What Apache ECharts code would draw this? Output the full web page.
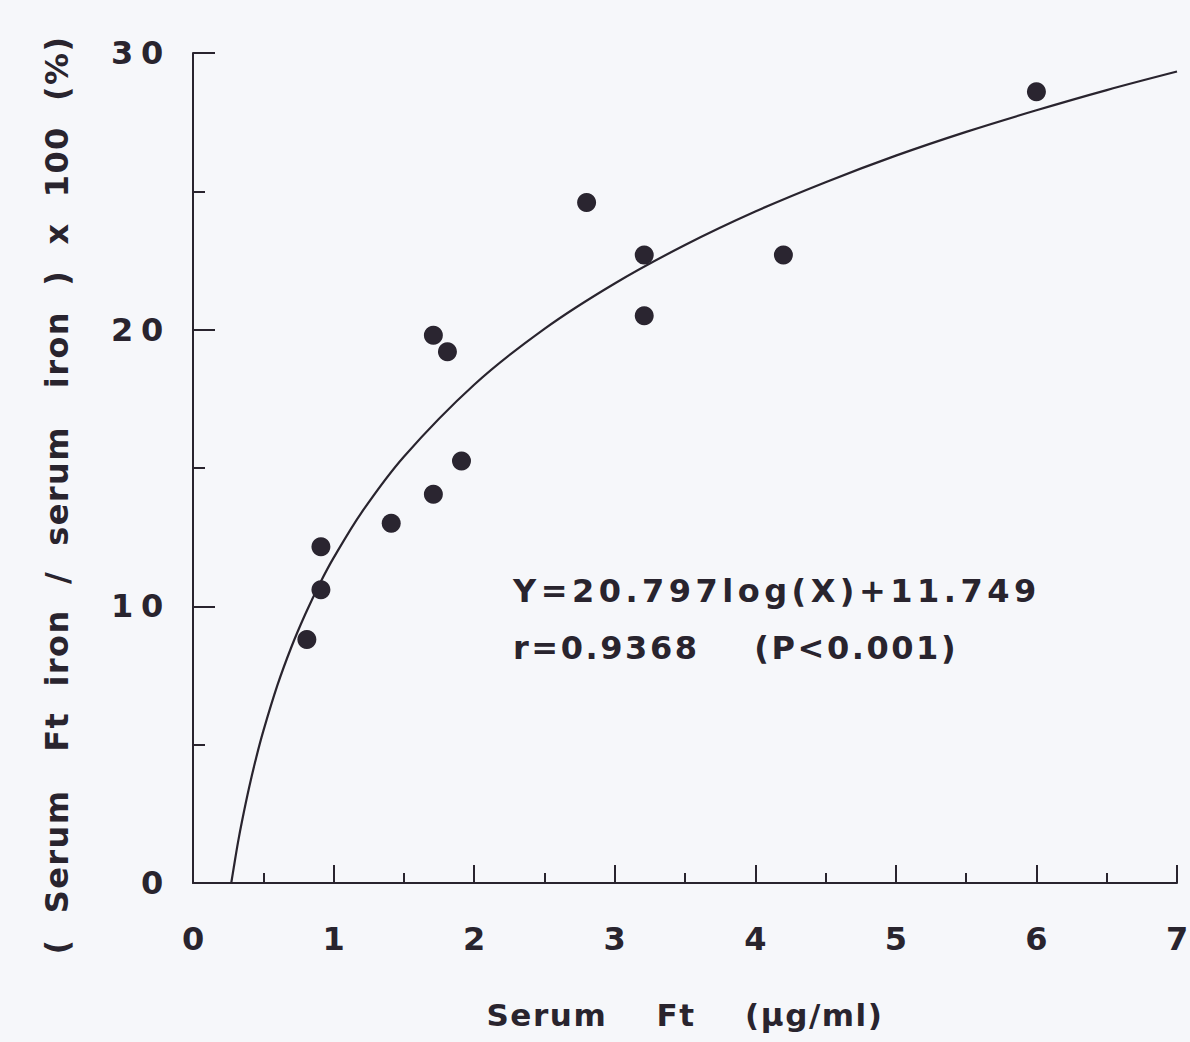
<!DOCTYPE html>
<html>
<head>
<meta charset="utf-8">
<script src="https://cdn.jsdelivr.net/npm/echarts@6/dist/echarts.min.js"></script>
<style>
html, body { margin: 0; padding: 0; background: #f6f7fa; }
#chart { width: 1190px; height: 1042px; }
#chart text { white-space: pre; }
</style>
</head>
<body>
<div id="chart"></div>
<script>
// ---- data ----
const xTicks = [0, 1, 2, 3, 4, 5, 6, 7];
const yTicks = [0, 10, 20, 30];
const ferritin = [0.81, 0.91, 0.91, 1.41, 1.71, 1.91, 1.71, 1.81, 2.80, 3.21, 3.21, 4.20, 6.00];
const ratio    = [8.8, 10.6, 12.15, 13.0, 14.05, 15.25, 19.8, 19.2, 24.6, 22.7, 20.5, 22.7, 28.6];
const fitX = [0.272, 0.29, 0.32, 0.35, 0.4, 0.45, 0.5, 0.6, 0.7, 0.8, 0.9, 1.0, 1.2, 1.5, 2.0, 2.5, 3.0, 3.5, 4.0, 4.5, 5.0, 5.5, 6.0, 6.5, 7.0];
const fitY = [0, 0.56, 1.47, 2.27, 3.47, 4.54, 5.49, 7.14, 8.53, 9.73, 10.80, 11.75, 13.40, 15.41, 18.01, 20.03, 21.67, 23.06, 24.27, 25.33, 26.29, 27.15, 27.93, 28.66, 29.33];
const equationText = 'Y=20.797log(X)+11.749';
const statText = 'r=0.9368    (P<0.001)';
const xTitle = 'Serum    Ft    (μg/ml)';
const yTitle = '(  Serum   Ft  iron  /  serum   iron  )  x  100  (%)';

// ---- styling ----
const ink = '#29242e';
const dot = '#2a2530';
const fam = '"DejaVu Sans", "Liberation Sans", Arial, sans-serif';

const chart = echarts.init(document.getElementById('chart'), null, { renderer: 'svg' });

const option = {
  backgroundColor: '#f6f7fa',
  animation: false,
  grid: { left: 193, right: 13, top: 53, bottom: 159, containLabel: false, outerBoundsMode: 'none' },
  xAxis: {
    type: 'value',
    min: xTicks[0], max: xTicks[xTicks.length - 1], interval: 1,
    axisLine: { show: true, onZero: false, lineStyle: { color: ink, width: 2 } },
    axisTick: { show: true, inside: true, length: 18, lineStyle: { color: ink, width: 2 } },
    minorTick: { show: true, splitNumber: 2, length: 10, lineStyle: { color: ink, width: 2 } },
    splitLine: { show: false },
    minorSplitLine: { show: false },
    axisLabel: { color: ink, fontFamily: fam, fontWeight: 'bold', fontSize: 32, margin: 40 },
    name: xTitle,
    nameLocation: 'middle',
    nameGap: 116,
    nameTextStyle: { color: ink, fontFamily: fam, fontWeight: 'bold', fontSize: 31 }
  },
  yAxis: {
    type: 'value',
    min: yTicks[0], max: yTicks[yTicks.length - 1], interval: 10,
    axisLine: { show: true, onZero: false, lineStyle: { color: ink, width: 2 } },
    axisTick: { show: true, inside: true, length: 22, lineStyle: { color: ink, width: 2 } },
    minorTick: { show: true, splitNumber: 2, length: 12, lineStyle: { color: ink, width: 2 } },
    splitLine: { show: false },
    minorSplitLine: { show: false },
    axisLabel: { color: ink, fontFamily: fam, fontWeight: 'bold', fontSize: 32, margin: 22 }
  },
  series: [
    {
      type: 'line',
      data: fitX.map((x, i) => [x, fitY[i]]),
      showSymbol: false,
      smooth: 0.35,
      silent: true,
      lineStyle: { color: ink, width: 2.2 },
      z: 1
    },
    {
      type: 'scatter',
      data: ferritin.map((x, i) => [x, ratio[i]]),
      symbol: 'circle',
      symbolSize: 19,
      itemStyle: { color: dot, opacity: 1 },
      z: 2
    }
  ],
  graphic: [
    {
      type: 'text', x: 57, y: 495, rotation: Math.PI / 2,
      style: { text: yTitle, fill: ink, font: 'bold 32px ' + fam, align: 'center', verticalAlign: 'middle', textAlign: 'center', textVerticalAlign: 'middle' }
    },
    {
      type: 'text', x: 513, y: 591,
      style: { text: equationText, fill: ink, font: 'bold 32px ' + fam, align: 'left', verticalAlign: 'middle', textAlign: 'left', textVerticalAlign: 'middle' }
    },
    {
      type: 'text', x: 513, y: 648,
      style: { text: statText, fill: ink, font: 'bold 32px ' + fam, align: 'left', verticalAlign: 'middle', textAlign: 'left', textVerticalAlign: 'middle' }
    }
  ]
};

chart.setOption(option);

function applySpacing() {
  document.querySelectorAll('#chart text').forEach(function (t) {
    const s = t.textContent;
    const anchor = t.getAttribute('text-anchor');
    let ls = null;
    if (s === equationText) ls = '0.14em';
    else if (s === statText) ls = '0.08em';
    else if (s === yTitle) ls = '0.045em';
    else if (s === xTitle) ls = '0.05em';
    else if (/^\d+$/.test(s) && anchor === 'end') ls = '0.24em';
    if (ls) t.style.letterSpacing = ls;
  });
}
applySpacing();
chart.on('finished', applySpacing);
setTimeout(applySpacing, 50);
</script>
</body>
</html>
